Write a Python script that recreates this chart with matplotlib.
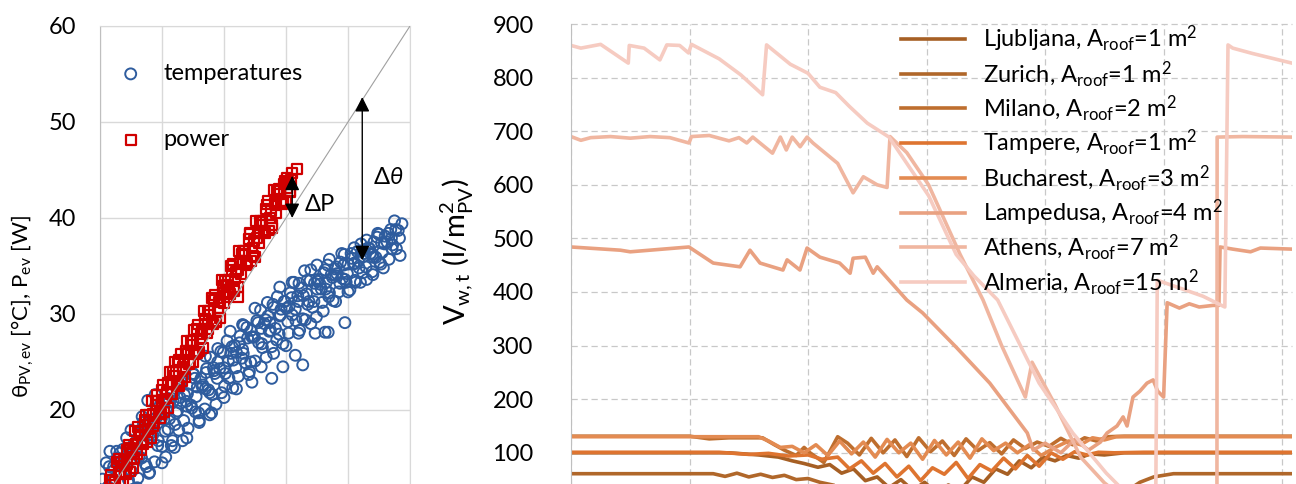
import matplotlib.pyplot as plt

plt.rcParams['font.family'] = ['Lato', 'DejaVu Sans']
plt.rcParams['mathtext.fontset'] = 'custom'
plt.rcParams['mathtext.rm'] = 'Lato'
plt.rcParams['mathtext.it'] = 'Lato:italic'
plt.rcParams['mathtext.bf'] = 'Lato:bold'

# ---------------- left panel : scatter data ----------------
temp_x = [10.4, 10.7, 11.0, 11.3, 11.6, 11.9, 12.2, 12.5, 12.8, 13.1, 13.4, 13.7, 14.0, 14.3,
          14.6, 14.9, 15.2, 15.5, 15.8, 16.1, 16.4, 16.7, 17.0, 17.3, 17.6, 17.9, 18.2, 18.5,
          18.8, 19.1, 19.4, 19.7, 20.0, 20.3, 20.6, 20.9, 21.2, 21.5, 21.8, 22.1, 22.4, 22.7,
          23.0, 23.3, 23.6, 23.9, 24.2, 24.5, 24.8, 25.1, 25.4, 25.7, 26.0, 26.3, 26.6, 26.9,
          27.2, 27.5, 27.8, 28.1, 28.4, 28.7, 29.0, 29.3, 29.6, 29.9, 30.2, 30.5, 30.8, 31.1,
          31.4, 31.7, 32.0, 32.3, 32.6, 32.9, 33.2, 33.5, 33.8, 34.1, 34.4, 34.7, 35.0, 35.3,
          35.6, 35.9, 36.2, 36.5, 36.8, 37.1, 37.4, 37.7, 38.0, 38.3, 38.6, 38.9, 39.2, 39.5,
          39.8, 40.1, 40.4, 40.7, 41.0, 41.3, 41.6, 41.9, 42.2, 42.5, 42.8, 43.1, 43.4, 43.7,
          44.0, 44.3, 44.6, 44.9, 45.2, 45.5, 45.8, 46.1, 46.4, 46.7, 47.0, 47.3, 47.6, 47.9,
          48.2, 48.5, 48.8, 49.1, 49.4, 49.7, 50.0, 50.3, 50.6, 50.9, 51.2, 51.5, 51.8, 52.1,
          52.4, 52.7, 53.0, 53.3, 53.6, 53.9, 54.2, 54.5, 54.8, 55.1, 55.4, 55.7, 56.0, 56.3,
          56.6, 56.9, 57.2, 57.5, 57.8, 58.1, 58.4, 58.7,
          49.5, 46.8, 44.7, 41.5, 42.7, 39.5, 37.7, 34.5, 27.7, 46.3, 16.8, 17.7, 18.9, 13.2,
          21.0, 24.0, 27.0, 30.0, 33.0, 36.0, 39.0, 42.0, 45.0, 48.0, 51.0, 54.0, 57.0,
          22.5, 25.5, 28.5, 31.5, 34.5, 37.5, 40.5, 43.5, 46.5, 49.5, 52.5, 55.5,
          10.9, 11.5, 12.1, 12.7, 13.3, 13.9, 14.5, 15.1, 15.7, 16.3, 16.9, 17.5, 18.1, 18.7,
          19.3, 19.9, 20.5, 21.1, 21.7, 22.3, 22.9, 23.5, 24.1, 24.7, 25.3, 25.9, 26.5, 27.1,
          27.7, 28.3, 28.9, 29.5, 30.1, 30.7, 31.3, 31.9, 32.5, 33.1, 33.7, 34.3, 34.9, 35.5,
          36.1, 36.7, 37.3, 37.9, 38.5, 39.1, 39.7, 40.3, 40.9, 41.5, 42.1, 42.7, 43.3, 43.9,
          44.5, 45.1, 45.7, 46.3, 46.9, 47.5, 48.1, 48.7, 49.3, 49.9, 50.5, 51.1, 51.7, 52.3,
          52.9, 53.5, 54.1, 54.7, 55.3, 55.9, 56.5, 57.1, 57.7, 58.3,
          15, 16, 17, 18, 19, 20, 21, 22, 23, 24, 25, 26, 27, 28, 29, 30, 31, 32, 33, 34, 35,
          36, 37, 38, 39, 40, 41, 42, 43, 44, 45, 46, 47, 48, 49, 50, 51, 52, 53, 54, 55]
temp_y = [12.8, 9.9, 14.5, 12.0, 15.7, 11.3, 14.1, 10.2, 15.0, 14.2, 11.4, 15.9, 13.4, 17.1,
          12.7, 15.5, 11.7, 16.5, 15.7, 12.9, 17.5, 15.0, 18.7, 14.4, 17.3, 13.4, 18.2, 17.4,
          14.6, 19.2, 16.8, 20.5, 16.2, 19.0, 15.1, 19.9, 19.1, 16.3, 20.9, 18.5, 22.2, 17.9,
          20.7, 16.8, 21.6, 20.9, 18.1, 22.7, 20.2, 23.7, 19.8, 22.4, 18.9, 23.3, 22.6, 20.1,
          24.3, 22.1, 25.5, 21.6, 24.1, 20.6, 25.0, 24.3, 21.8, 26.0, 23.8, 27.2, 23.3, 25.9,
          22.3, 26.7, 26.0, 23.5, 27.7, 25.4, 28.8, 24.9, 27.5, 24.0, 28.3, 27.6, 25.1, 29.3,
          27.0, 30.4, 26.5, 29.0, 25.5, 29.8, 29.1, 26.6, 30.7, 28.5, 31.8, 27.9, 30.5, 26.9,
          31.3, 30.6, 28.0, 32.2, 29.9, 33.3, 29.3, 31.9, 28.3, 32.7, 31.9, 29.4, 33.5, 31.3,
          34.6, 30.7, 33.2, 29.7, 33.6, 33.1, 31.2, 34.3, 32.6, 35.1, 32.2, 34.1, 31.4, 34.7,
          34.2, 32.3, 35.4, 33.7, 36.2, 33.3, 35.2, 32.5, 35.8, 35.2, 33.3, 36.5, 34.8, 37.3,
          34.3, 36.3, 33.6, 36.9, 36.3, 34.4, 37.5, 35.9, 38.4, 35.4, 37.4, 34.8, 38.1, 37.5,
          35.7, 38.8, 37.2, 39.7, 36.8, 38.7, 36.1, 39.4,
          29.1, 28.1, 28.0, 25.7, 24.7, 24.5, 23.3, 22.9, 19.5, 28.1, 19.3, 21.0, 21.6, 15.5,
          18.0, 20.4, 22.2, 24.4, 26.3, 28.5, 29.8, 31.3, 32.6, 34.0, 35.3, 36.2, 37.9,
          19.9, 21.4, 23.8, 25.2, 27.6, 28.3, 30.8, 31.0, 33.3, 33.6, 36.0, 36.4,
          11.4, 14.1, 12.8, 15.7, 11.6, 14.5, 16.0, 13.6, 16.4, 15.1, 18.1, 14.1, 17.0, 18.6,
          16.3, 19.1, 17.8, 20.8, 16.8, 19.7, 21.3, 18.9, 21.7, 20.5, 23.3, 19.7, 22.4, 23.9,
          21.8, 24.4, 23.3, 26.1, 22.5, 25.1, 26.6, 24.4, 27.0, 25.9, 28.6, 25.0, 27.6, 29.1,
          26.9, 29.4, 28.2, 31.0, 27.3, 29.9, 31.3, 29.2, 31.7, 30.5, 33.2, 29.5, 32.1, 33.5,
          31.3, 33.4, 32.6, 34.6, 31.8, 33.8, 34.9, 33.2, 35.1, 34.2, 36.3, 33.5, 35.5, 36.6,
          34.9, 36.8, 35.9, 38.0, 35.2, 37.3, 38.4, 36.8, 38.8, 37.9,
          17.9, 11.9, 18.7, 13.5, 20.5, 14.5, 21.2, 16.1, 23.0, 17.1, 23.8, 18.7, 25.6, 19.7,
          26.4, 21.3, 28.2, 22.2, 28.9, 23.7, 30.6, 24.5, 31.2, 25.9, 32.8, 26.7, 33.3, 28.0,
          34.5, 29.0, 35.1, 30.3, 35.7, 31.3, 36.3, 32.3, 36.9, 33.3, 37.7, 34.1, 38.3]

power_x = [11.0, 11.4, 11.8, 12.2, 12.6, 13.0, 13.4, 13.8, 14.2, 14.6, 15.0, 15.4, 15.8, 16.2,
           16.6, 17.0, 17.4, 17.8, 18.2, 18.6, 19.0, 19.4, 19.8, 20.2, 20.6, 21.0, 21.4, 21.8,
           22.2, 22.6, 23.0, 23.4, 23.8, 24.2, 24.6, 25.0, 25.4, 25.8, 26.2, 26.6, 27.0, 27.4,
           27.8, 28.2, 28.6, 29.0, 29.4, 29.8, 30.2, 30.6, 31.0, 31.4, 31.8, 32.2, 32.6, 33.0,
           33.4, 33.8, 34.2, 34.6, 35.0, 35.4, 35.8, 36.2, 36.6, 37.0, 37.4, 37.8, 38.2, 38.6,
           39.0, 39.4, 39.8, 40.2, 40.6, 41.0, 41.8,
           11.2, 11.6, 12.0, 12.4, 12.8, 13.2, 13.6, 14.0, 14.4, 14.8, 15.2, 15.6, 16.0, 16.4,
           16.8, 17.2, 17.6, 18.0, 18.4, 18.8, 19.2, 19.6, 20.0, 20.4, 20.8, 21.2, 21.6, 22.0,
           22.4, 22.8, 23.2, 23.6, 24.0, 24.4, 24.8, 25.2, 25.6, 26.0, 26.4, 26.8, 27.2, 27.6,
           28.0, 28.4, 28.8, 29.2, 29.6, 30.0, 30.4, 30.8, 31.2, 31.6, 32.0, 32.4, 32.8, 33.2,
           33.6, 34.0, 34.4, 34.8, 35.2, 35.6, 36.0, 36.4, 36.8, 37.2, 37.6, 38.0, 38.4, 38.8,
           39.2, 39.6, 40.0, 40.4, 40.8,
           22.6, 25.0, 32.3,
           11.3, 11.9, 12.5, 13.1, 13.7, 14.3, 14.9, 15.5, 16.1, 16.7, 17.3, 17.9, 18.5, 19.1,
           19.7, 20.3, 20.9, 21.5, 22.1, 22.7, 23.3, 23.9, 24.5, 25.1, 25.7, 26.3, 26.9, 27.5,
           28.1, 28.7, 29.3, 29.9, 30.5, 31.1, 31.7, 32.3, 32.9, 33.5, 34.1, 34.7, 35.3, 35.9,
           36.5, 37.1, 37.7, 38.3, 38.9, 39.5, 40.1, 40.7]
power_y = [11.5, 10.2, 13.2, 11.8, 10.8, 13.4, 14.6, 14.7, 13.3, 16.4, 14.9, 13.9, 16.5, 17.7,
           17.8, 16.4, 19.5, 18.0, 17.1, 19.6, 20.9, 20.9, 19.6, 22.6, 21.2, 20.2, 22.8, 24.0,
           24.1, 22.7, 25.8, 24.3, 23.4, 25.9, 27.2, 27.2, 25.8, 28.9, 27.4, 26.5, 29.0, 30.3,
           30.3, 29.0, 32.0, 30.6, 29.6, 32.2, 33.4, 33.5, 32.1, 35.2, 33.7, 32.8, 35.3, 36.6,
           36.6, 35.3, 38.3, 36.9, 35.9, 38.4, 39.7, 39.7, 38.4, 41.4, 40.0, 39.0, 41.6, 42.8,
           42.9, 41.5, 43.9, 43.1, 42.8, 44.7, 45.1,
           10.3, 12.7, 10.4, 12.5, 14.6, 12.3, 14.2, 13.5, 15.8, 13.6, 15.6, 17.8, 15.4, 17.4,
           16.6, 19.0, 16.7, 18.8, 20.9, 18.6, 20.5, 19.8, 22.1, 19.8, 21.9, 24.0, 21.7, 23.6,
           22.9, 25.2, 23.0, 25.0, 27.2, 24.8, 26.8, 26.0, 28.4, 26.1, 28.2, 30.3, 28.0, 29.9,
           29.2, 31.5, 29.3, 31.3, 33.5, 31.1, 33.0, 32.3, 34.6, 32.4, 34.4, 36.6, 34.2, 36.2,
           35.4, 37.8, 35.5, 37.6, 39.7, 37.4, 39.3, 38.6, 40.9, 38.7, 40.7, 42.9, 40.5, 42.5,
           41.7, 43.6, 41.8, 43.8, 44.0,
           25.0, 25.0, 31.8,
           11.1, 12.7, 11.6, 14.9, 12.4, 14.4, 16.1, 15.0, 18.2, 15.8, 17.8, 19.5, 18.3, 21.6,
           19.2, 21.1, 22.8, 21.7, 25.0, 22.5, 24.5, 26.2, 25.0, 28.3, 25.9, 27.9, 29.5, 28.4,
           31.7, 29.2, 31.2, 32.9, 31.8, 35.0, 32.6, 34.6, 36.3, 35.1, 38.4, 36.0, 37.9, 39.6,
           38.5, 41.8, 39.3, 41.3, 43.0, 41.8, 44.2, 42.7]

# ---------------- right panel : tank volume over the year ----------------
cities = ['Ljubljana', 'Zurich', 'Milano', 'Tampere', 'Bucharest', 'Lampedusa', 'Athens', 'Almeria']
roof = [1, 1, 2, 1, 3, 4, 7, 15]
colors = ['#A65F24', '#B0672A', '#BE6E2E', '#DE7430', '#E38B52', '#E9A181', '#F0B6A0', '#F6CBC1']

ljub_d = [0, 80, 95, 105, 112, 118, 125, 131, 137, 143, 149, 155, 161, 167, 173, 179, 185, 191, 197,
          203, 209, 215, 221, 227, 233, 239, 245, 251, 257, 263, 270, 280, 300, 365]
ljub_v = [100, 100, 96, 92, 85, 80, 73, 78, 62, 70, 48, 55, 35, 50, 30, 45, 25, 40, 30,
          55, 45, 70, 60, 85, 72, 92, 85, 95, 90, 98, 96, 100, 100, 100]
zur_d = [0, 72, 78, 84, 90, 96, 102, 108, 114, 120, 126, 135, 150, 170, 200, 230, 260, 280, 288, 295, 305, 365]
zur_v = [61, 61, 56, 62, 55, 60, 54, 58, 50, 52, 45, 38, 20, 5, 0, 0, 5, 25, 45, 55, 61, 61]
mil_d = [0, 60, 70, 80, 97, 103, 108, 114, 118, 121, 128, 135, 140, 146, 152, 158, 164, 170, 176, 182,
         188, 194, 200, 206, 212, 218, 224, 230, 236, 242, 248, 254, 260, 266, 272, 280, 365]
mil_v = [131, 131, 126, 128, 128, 115, 105, 95, 110, 100, 82, 130, 118, 96, 127, 100, 124, 93, 128, 102,
         122, 95, 126, 104, 119, 98, 124, 108, 120, 112, 127, 115, 128, 122, 130, 131, 131]
tam_d = [0, 75, 90, 100, 110, 120, 127, 135, 141, 147, 153, 159, 165, 171, 177, 183, 189, 195, 201, 207,
         213, 219, 225, 231, 237, 243, 249, 255, 261, 267, 275, 290, 365]
tam_v = [101, 101, 97, 99, 94, 96, 88, 92, 70, 85, 62, 80, 55, 75, 48, 72, 60, 82, 52, 78,
         66, 90, 70, 95, 75, 100, 88, 102, 96, 101, 100, 101, 101]
buc_d = [0, 95, 100, 106, 112, 118, 124, 130, 136, 142, 148, 154, 160, 166, 172, 178, 184, 190, 196, 202,
         208, 214, 220, 226, 232, 238, 245, 252, 258, 264, 270, 276, 365]
buc_v = [130, 130, 122, 110, 112, 100, 115, 95, 122, 98, 120, 92, 125, 100, 118, 88, 123, 96, 120, 90,
         126, 104, 118, 100, 115, 95, 110, 122, 115, 128, 124, 130, 130]
lamp_d = [0, 25, 30, 59.7, 72, 85.6, 90.6, 95.7, 107.3, 109.4, 115.9, 119.5, 126, 136, 141.3, 142.8, 149,
          153, 155, 170, 178, 195, 212, 231, 234, 240, 248, 255, 262, 268, 271.4, 276.4, 279.5, 281.5,
          284.5, 288, 291.6, 294.7, 297, 300, 301.8, 308, 313, 318, 325, 328, 328.6, 335, 344, 349, 365]
lamp_v = [484, 478, 475, 484, 454, 447, 478, 454, 441, 460, 441, 482, 465, 454, 435, 463, 465,
          435, 447, 385, 361, 297, 230, 137, 105, 118, 100, 125, 105, 120, 137, 150, 167, 150,
          204, 215, 230, 236, 215, 204, 380, 370, 378, 372, 375, 375, 484, 480, 475, 482, 480]
ath_d = [0, 5, 10, 20, 30, 40, 50, 59.7, 61, 70, 80, 85, 89, 92, 102, 106, 109, 112, 116, 119.5, 122.5,
         135, 142.8, 148, 155, 160, 161.5, 170, 181, 197, 208.6, 218, 230, 233.4, 245, 258, 270, 280,
         290, 327, 327.1, 340, 365]
ath_v = [690, 683, 688, 690, 687, 690, 688, 678, 690, 692, 682, 688, 678, 689, 659, 689, 665, 689, 671, 689, 678,
         640, 585, 615, 600, 595, 690, 660, 600, 470, 385, 300, 204, 269, 190, 92, 44, 15,
         0, 0, 689, 690, 689]
alm_d = [0, 5, 15, 29, 29.5, 37, 45, 48.5, 55, 59.5, 61, 75, 86, 97, 99, 111, 120, 126, 134, 141, 150,
         161, 170, 181, 195, 204, 216, 237, 254, 271, 285, 292, 296, 296.8, 310, 320, 331, 332.6, 335,
         345, 365]
alm_v = [860, 855, 862, 827, 860, 855, 833, 861, 860, 846, 862, 835, 805, 768, 861, 825, 808, 782, 772, 746, 715,
         689, 640, 580, 470, 430, 385, 230, 137, 62, 10, 0, 0, 422, 405, 392, 372, 861, 855,
         845, 827]

days = [ljub_d, zur_d, mil_d, tam_d, buc_d, lamp_d, ath_d, alm_d]
vols = [ljub_v, zur_v, mil_v, tam_v, buc_v, lamp_v, ath_v, alm_v]

fig = plt.figure(figsize=(12.96, 4.84), dpi=100)

# ---------------- left panel ----------------
ax1 = fig.add_axes([100/1296, -22/484, 310/1296, 480/484])
ax1.scatter(temp_x, temp_y, s=62, facecolors='none', edgecolors='#2E5C9E', linewidths=1.4,
            label='temperatures', zorder=3)
ax1.scatter(power_x, power_y, s=50, marker='s', facecolors='none', edgecolors='#D00000',
            linewidths=1.6, label='power', zorder=4)
ax1.plot([10, 60], [10, 60], color='#A0A0A0', lw=0.8, zorder=5)
ax1.set_xlim(10, 60)
ax1.set_ylim(10, 60)
ax1.set_xticks([10, 20, 30, 40, 50, 60])
ax1.set_yticks([20, 30, 40, 50, 60])
ax1.grid(True, color='#D9D9D9', lw=1)
ax1.tick_params(length=0, labelsize=17, pad=17, labelbottom=False)
for s in ax1.spines.values():
    s.set_color('#D9D9D9')
ax1.spines['left'].set_color('#BFBFBF')
ax1.legend(loc='upper left', bbox_to_anchor=(0.0, 0.967), frameon=False, fontsize=17,
           handlelength=0.8, handletextpad=1.0, labelspacing=1.9, scatterpoints=1)

ax1.annotate('', xy=(41.0, 44.4), xytext=(41.0, 40.0),
             arrowprops=dict(arrowstyle='<|-|>', color='black', lw=1, mutation_scale=22,
                             shrinkA=0, shrinkB=0), zorder=6)
ax1.annotate('', xy=(52.3, 52.6), xytext=(52.3, 35.6),
             arrowprops=dict(arrowstyle='<|-|>', color='black', lw=1, mutation_scale=22,
                             shrinkA=0, shrinkB=0), zorder=6)
ax1.text(43.0, 41.4, 'ΔP', fontsize=17, va='center', ha='left')
ax1.text(54.0, 44.2, 'Δ$\\it{\\theta}$', fontsize=17, va='center', ha='left')

fig.text(23/1296, 1 - 307/484, 'θ$_\\mathregular{PV,ev}$ [°C], P$_\\mathregular{ev}$ [W]',
         rotation=90, ha='center', va='center', fontsize=16)

# ---------------- right panel ----------------
ax2 = fig.add_axes([571/1296, -22.4/484, 721/1296, 482.4/484])
for d, v, c, r, col in zip(days, vols, cities, roof, colors):
    ax2.plot(d, v, color=col, lw=2.6,
             label=c + ', A$_\\mathregular{roof}$=' + str(r) + ' m$^\\mathregular{2}$')
ax2.set_xlim(0, 365)
ax2.set_ylim(0, 900)
ax2.set_xticks([0, 60, 120, 180, 240, 300, 360])
ax2.set_yticks(range(100, 1000, 100))
ax2.grid(True, color='#C8C8C8', lw=0.9, ls=(0, (5, 3)))
for gl in ax2.get_ygridlines():
    gl.set_clip_on(False)
ax2.tick_params(length=0, labelsize=17, pad=27, labelbottom=False)
for k in ['top', 'right', 'bottom']:
    ax2.spines[k].set_visible(False)
ax2.spines['left'].set_color('#BFBFBF')
ax2.legend(loc='upper left', bbox_to_anchor=(0.445, 1.02), frameon=False, fontsize=17,
           handlelength=2.7, handletextpad=0.75, labelspacing=0.2, borderaxespad=0)

fig.text(457/1296, 1 - 252/484, 'V$_\\mathregular{w,t}$ (l/$\\mathregular{m^{2}_{PV}}$)',
         rotation=90, ha='center', va='center', fontsize=21)

fig.savefig('out.png', dpi=100)
